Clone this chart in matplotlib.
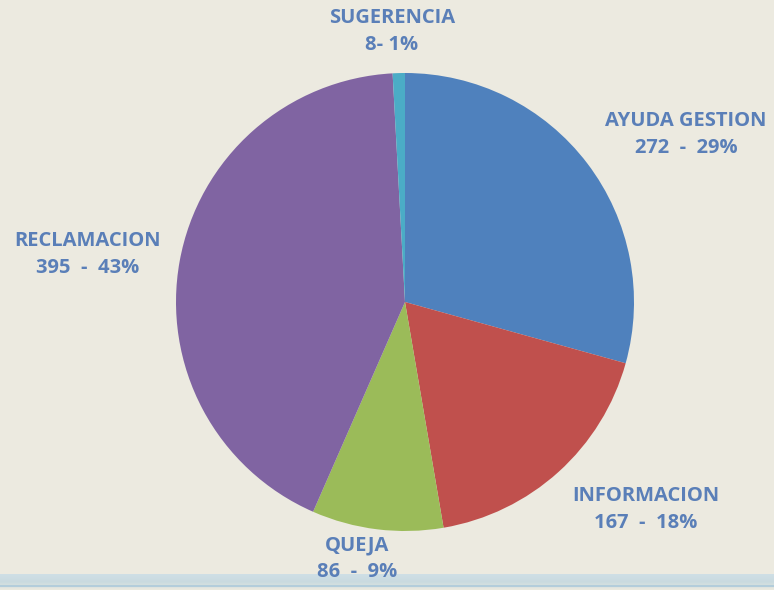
import matplotlib.pyplot as plt
import numpy as np
from matplotlib.colors import LinearSegmentedColormap

categories = ['AYUDA GESTION', 'INFORMACION', 'QUEJA', 'RECLAMACION', 'SUGERENCIA']
counts = [272, 167, 86, 395, 8]
percents = [29, 18, 9, 43, 1]
colors = ['#4F81BD', '#C0504D', '#9BBB59', '#8064A2', '#4BACC6']

W, H = 774, 590
fig = plt.figure(figsize=(W / 100, H / 100), dpi=100)
fig.patch.set_facecolor('#ECEAE0')

# bottom stripe
bg = fig.add_axes([0, 0, 1, 16 / H])
grad = np.linspace(0, 1, 50).reshape(-1, 1)
bg.imshow(grad, aspect='auto', extent=[0, 1, 0, 1],
          cmap=LinearSegmentedColormap.from_list('g', ['#CFDFE6', '#C9DADF', '#ECEAE0']))
bg.axhline(0.22, color='#B3CDDB', lw=1.5)
bg.set_xlim(0, 1)
bg.set_ylim(0, 1)
bg.axis('off')

cx, cy, r = 405, 302, 229
ax = fig.add_axes([(cx - r) / W, (H - cy - r) / H, 2 * r / W, 2 * r / H])
ax.pie(counts, colors=colors, startangle=90, counterclock=False,
       wedgeprops=dict(linewidth=0))
ax.set_xlim(-1, 1)
ax.set_ylim(-1, 1)
ax.set_aspect('equal')

label_pos = [(686, 121), (646, 496), (357, 545), (88, 241), (392, 18)]
for name, n, p, (x, y) in zip(categories, counts, percents, label_pos):
    sep = '- ' if name == 'SUGERENCIA' else '  -  '
    fig.text(x / W, 1 - y / H, name, ha='center', va='center', fontsize=14.5,
             fontweight='bold', color='#5A7FB8', family='Open Sans')
    fig.text(x / W, 1 - (y + 27) / H, f'{n}{sep}{p}%', ha='center', va='center',
             fontsize=14.5, fontweight='bold', color='#5A7FB8', family='Open Sans')

fig.savefig('out.png', dpi=100, facecolor=fig.get_facecolor())
